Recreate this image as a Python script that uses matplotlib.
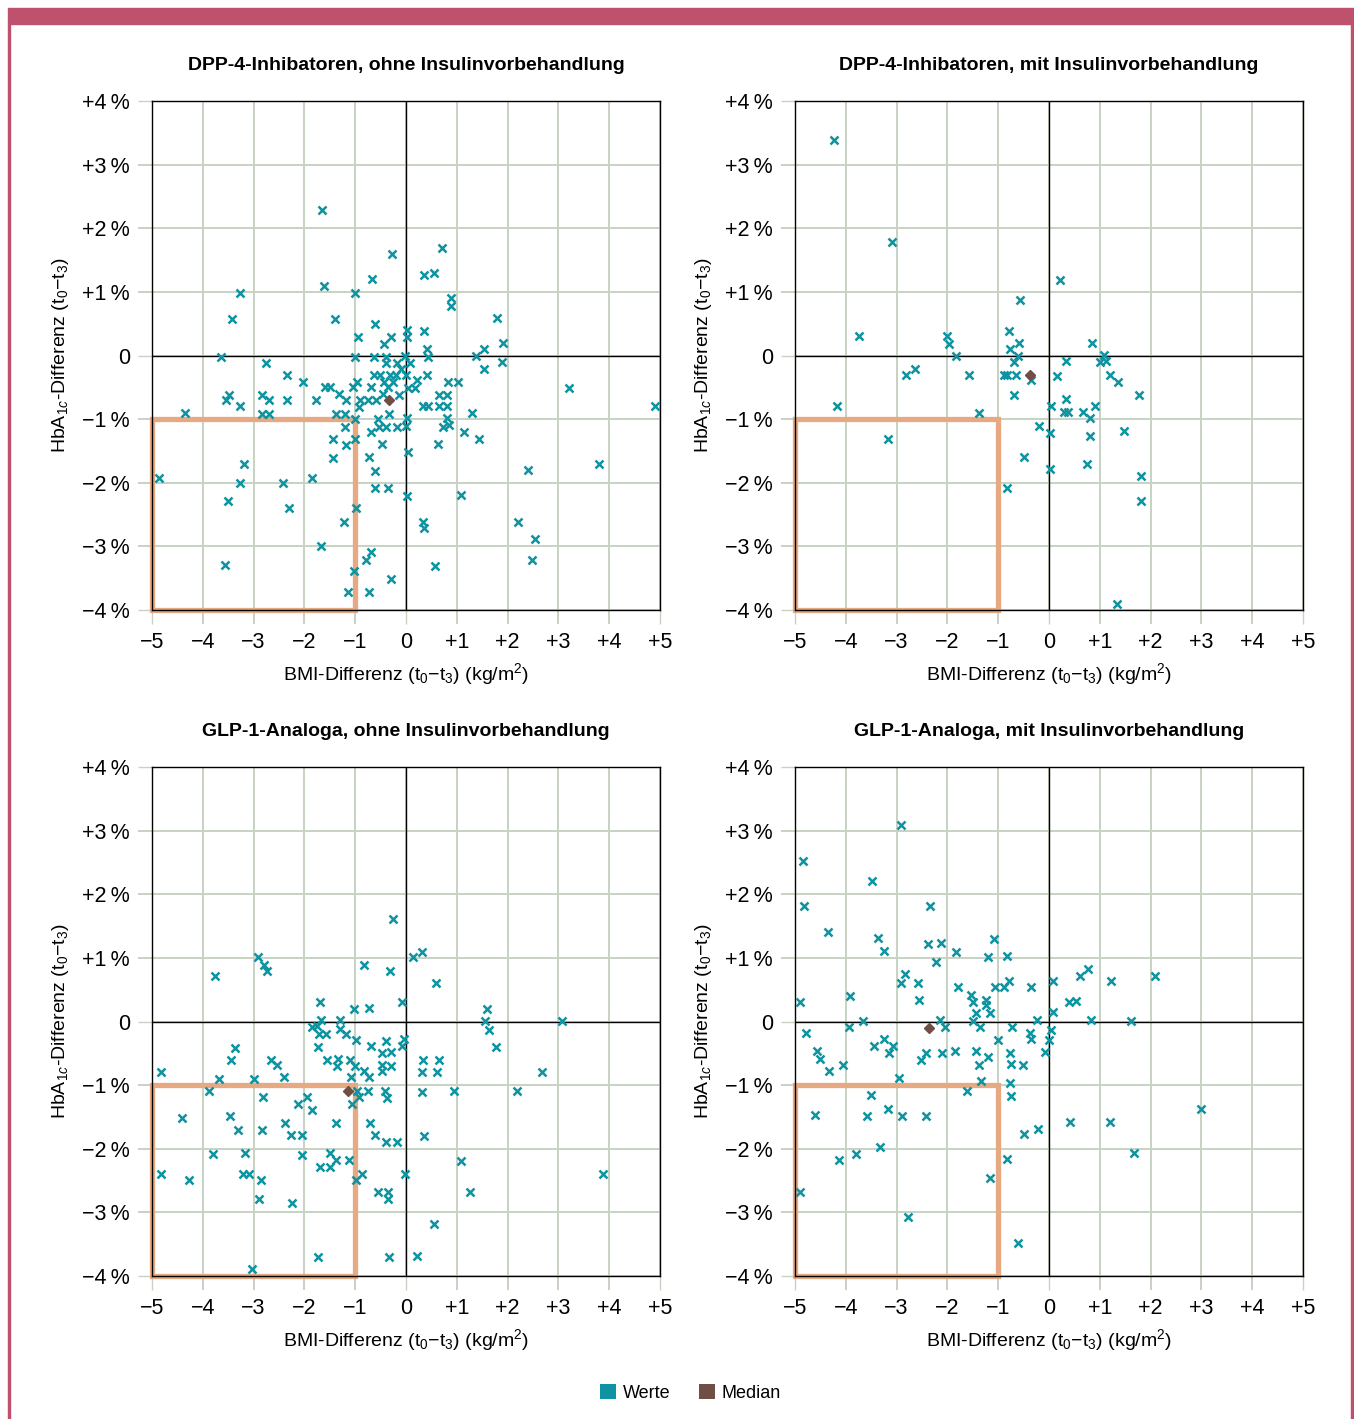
import numpy as np
import matplotlib
matplotlib.use("Agg")
import matplotlib.pyplot as plt
from matplotlib.patches import Rectangle, Patch

# ---------------------------
# Data
# x = BMI-Differenz (kg/m2), y = HbA1c-Differenz (%)
# ---------------------------
dpp4_ohne_bmi = [
    -1.66, -0.27, -0.67, -1.62, -1.01, -3.27, -3.43, -1.39, -0.62, -0.94,
    -0.30, -0.43, 0.02, 0.02, -3.64, -2.75, -1.01, -0.63, -0.39, -0.39,
    -0.18, -0.10, -0.02, -2.34, -2.03, -0.63, -0.52, -0.31, -0.20, 0.00,
    -0.43, -0.26, -1.60, -1.49, -1.05, -0.96, -0.69, -0.36, 0.03, -1.32,
    -0.46, -0.14, -3.49, -3.55, -2.84, -2.70, -3.27, -2.35, -1.78, -1.18,
    -0.90, -0.75, -0.59, -0.92, -4.35, -2.84, -2.70, -1.37, -1.20, -0.33,
    -1.01, -0.56, 0.01, -1.21, -0.69, -0.54, -0.39, -0.18, 0.00, -1.43,
    -1.01, -1.18, -0.48, -1.43, -0.73, -0.62, 0.03, -4.86, -3.19, -3.27,
    -2.42, -1.86, -0.62, -0.35, 0.02, -3.50, -2.31, -0.98, -1.23, -1.68,
    -0.69, -0.79, -3.56, -1.03, -0.30, -1.14, -0.73,
    0.70, 0.35, 0.56, 0.88, 0.88, 0.36, 0.41, 0.43, 1.79, 1.91,
    1.54, 1.38, 1.89, 1.54, 0.07, 0.41, 0.22, 0.18, 0.82, 1.02,
    0.64, 0.80, 0.33, 0.43, 0.64, 0.80, 1.30, 0.80, 0.72, 0.84,
    1.15, 1.44, 0.63, 3.20, 4.90, 2.40, 3.79, 1.09, 0.33, 0.35,
    2.21, 2.54, 2.48, 0.58,
]
dpp4_ohne_hba1c = [
    2.28, 1.59, 1.20, 1.09, 0.98, 0.98, 0.58, 0.58, 0.50, 0.29,
    0.29, 0.18, 0.40, 0.29, -0.02, -0.12, -0.02, -0.02, -0.02, -0.12,
    -0.12, -0.22, -0.01, -0.31, -0.41, -0.31, -0.31, -0.31, -0.31, -0.31,
    -0.42, -0.42, -0.50, -0.50, -0.50, -0.42, -0.50, -0.50, -0.51, -0.61,
    -0.61, -0.62, -0.62, -0.70, -0.62, -0.70, -0.80, -0.70, -0.70, -0.70,
    -0.70, -0.70, -0.70, -0.81, -0.90, -0.92, -0.92, -0.92, -0.92, -0.92,
    -1.00, -1.00, -0.99, -1.12, -1.20, -1.12, -1.12, -1.12, -1.11, -1.31,
    -1.31, -1.41, -1.39, -1.61, -1.60, -1.81, -1.52, -1.93, -1.70, -2.00,
    -2.00, -1.92, -2.09, -2.09, -2.21, -2.28, -2.40, -2.40, -2.61, -3.00,
    -3.09, -3.21, -3.30, -3.39, -3.51, -3.71, -3.71,
    1.69, 1.27, 1.29, 0.90, 0.78, 0.39, 0.10, -0.02, 0.59, 0.19,
    0.10, -0.01, -0.11, -0.21, -0.12, -0.30, -0.38, -0.51, -0.42, -0.42,
    -0.62, -0.62, -0.80, -0.80, -0.80, -0.80, -0.91, -0.99, -1.12, -1.10,
    -1.20, -1.31, -1.39, -0.51, -0.80, -1.80, -1.71, -2.19, -2.61, -2.71,
    -2.61, -2.88, -3.21, -3.31,
]
dpp4_ohne_median = (-0.34, -0.70)

dpp4_mit_bmi = [
    -4.23, -3.10, -0.57, -3.74, -2.00, -1.97, -1.83, -0.78, -0.60, -0.77,
    -0.62, -0.69, -2.81, -2.63, -1.57, -0.88, -0.83, -0.64, -0.36, -0.68,
    -4.18, -1.37, -3.16, -0.20, 0.01, -0.50, 0.01, -0.83,
    0.22, 0.85, 1.08, 1.00, 1.13, 0.33, 0.15, 1.21, 1.36, 1.78,
    0.33, 0.03, 0.29, 0.38, 0.67, 0.90, 0.80, 0.81, 1.47, 0.74,
    1.82, 1.82, 1.33,
]
dpp4_mit_hba1c = [
    3.39, 1.79, 0.88, 0.30, 0.31, 0.18, -0.01, 0.39, 0.20, 0.11,
    -0.01, -0.10, -0.30, -0.21, -0.30, -0.30, -0.30, -0.30, -0.39, -0.62,
    -0.80, -0.91, -1.31, -1.11, -1.22, -1.59, -1.78, -2.09,
    1.19, 0.20, 0.01, -0.10, -0.09, -0.09, -0.33, -0.30, -0.42, -0.62,
    -0.69, -0.79, -0.89, -0.89, -0.89, -0.79, -0.99, -1.27, -1.19, -1.71,
    -1.89, -2.28, -3.91,
]
dpp4_mit_median = (-0.38, -0.30)

glp1_ohne_bmi = [
    -0.25, -2.92, -2.80, -2.74, -3.75, -0.82, -0.31, -0.07, -1.70, -1.03,
    -0.73, -1.68, -1.30, -1.86, -1.75, -1.71, -1.58, -1.29, -1.18, -0.98,
    -0.39, -0.03, -0.07, -1.73, -0.68, -0.48, -0.30, -3.36, -3.44, -2.66,
    -2.53, -1.56, -1.33, -1.35, -1.11, -1.01, -0.48, -0.48, -0.30, -0.82,
    -0.72, -4.82, -3.68, -2.99, -2.40, -1.08, -3.87, -0.97, -0.92, -1.06,
    -0.75, -0.41, -0.38, -2.81, -1.95, -2.12, -1.85, -4.41, -3.46, -3.31,
    -2.83, -2.39, -2.26, -2.04, -1.38, -0.70, -0.62, -0.39, -0.18, -3.79,
    -3.17, -2.04, -1.49, -1.37, -1.50, -1.70, -1.13, -4.82, -4.27, -3.21,
    -3.09, -2.85, -0.98, -0.86, -0.02, -2.89, -2.25, -0.55, -0.36, -0.36,
    -1.74, -0.33, -3.04,
    0.14, 0.31, 0.60, 1.59, 1.55, 1.64, 1.77, 3.07, 0.33, 0.64,
    0.31, 0.62, 2.67, 0.31, 0.95, 2.18, 0.36, 1.09, 1.26, 3.87,
    0.56, 0.21,
]
glp1_ohne_hba1c = [
    1.61, 1.01, 0.89, 0.80, 0.71, 0.89, 0.80, 0.30, 0.30, 0.20,
    0.21, 0.02, 0.02, -0.09, -0.07, -0.20, -0.19, -0.12, -0.20, -0.29,
    -0.30, -0.28, -0.38, -0.40, -0.38, -0.50, -0.48, -0.41, -0.61, -0.60,
    -0.69, -0.61, -0.59, -0.70, -0.61, -0.70, -0.69, -0.78, -0.70, -0.78,
    -0.88, -0.80, -0.91, -0.91, -0.88, -0.88, -1.10, -1.10, -1.18, -1.30,
    -1.10, -1.10, -1.20, -1.19, -1.19, -1.30, -1.39, -1.51, -1.49, -1.71,
    -1.71, -1.60, -1.78, -1.78, -1.60, -1.60, -1.78, -1.89, -1.89, -2.09,
    -2.07, -2.10, -2.07, -2.18, -2.29, -2.28, -2.18, -2.40, -2.49, -2.40,
    -2.40, -2.49, -2.49, -2.40, -2.40, -2.79, -2.86, -2.68, -2.68, -2.79,
    -3.70, -3.70, -3.89,
    1.01, 1.10, 0.60, 0.20, 0.01, -0.13, -0.40, 0.01, -0.60, -0.61,
    -0.80, -0.79, -0.80, -1.11, -1.10, -1.10, -1.80, -2.19, -2.68, -2.40,
    -3.19, -3.69,
]
glp1_ohne_median = (-1.15, -1.09)

glp1_mit_bmi = [
    -2.92, -4.84, -3.48, -4.82, -2.35, -4.35, -3.37, -3.25, -2.39, -2.12,
    -1.83, -1.09, -1.20, -0.82, -2.22, -2.83, -2.91, -2.57, -2.55, -1.79,
    -1.53, -1.49, -1.24, -1.24, -1.16, -1.43, -1.06, -0.88, -0.78, -0.35,
    -4.91, -3.91, -3.66, -3.94, -4.78, -2.15, -2.05, -1.49, -1.35, -0.24,
    -0.73, -0.37, -0.36, -1.01, -3.45, -3.25, -3.07, -3.14, -4.57, -4.50,
    -4.33, -4.06, -2.51, -2.42, -2.11, -1.85, -1.43, -1.20, -1.37, -0.77,
    -0.75, -0.52, -2.95, -1.34, -1.61, -0.77, -0.75, -3.51, -4.61, -3.59,
    -3.16, -2.89, -2.42, -0.49, -0.21, -4.14, -3.80, -3.33, -0.83, -1.16,
    -4.90, -2.78, -0.62,
    0.77, 0.62, 0.08, 1.23, 2.09, 0.39, 0.54, 0.08, 0.83, 1.61,
    0.03, 0.00, -0.07, 0.41, 1.21, 3.00, 1.68,
]
glp1_mit_hba1c = [
    3.09, 2.52, 2.21, 1.81, 1.82, 1.41, 1.31, 1.11, 1.22, 1.23,
    1.10, 1.30, 1.01, 1.03, 0.93, 0.74, 0.61, 0.60, 0.34, 0.54,
    0.42, 0.31, 0.34, 0.26, 0.13, 0.13, 0.54, 0.54, 0.63, 0.54,
    0.31, 0.40, 0.01, -0.09, -0.18, 0.02, -0.09, 0.01, -0.09, 0.03,
    -0.09, -0.18, -0.28, -0.29, -0.38, -0.27, -0.38, -0.50, -0.47, -0.59,
    -0.78, -0.69, -0.61, -0.50, -0.50, -0.47, -0.47, -0.56, -0.68, -0.50,
    -0.67, -0.69, -0.89, -0.94, -1.09, -0.97, -1.17, -1.15, -1.47, -1.49,
    -1.38, -1.49, -1.49, -1.77, -1.69, -2.18, -2.09, -1.98, -2.16, -2.46,
    -2.68, -3.08, -3.48,
    0.83, 0.71, 0.63, 0.63, 0.71, 0.31, 0.33, 0.15, 0.03, 0.01,
    -0.13, -0.29, -0.48, -1.58, -1.58, -1.38, -2.07,
]
glp1_mit_median = (-2.36, -0.10)

titles = [
    "DPP-4-Inhibatoren, ohne Insulinvorbehandlung",
    "DPP-4-Inhibatoren, mit Insulinvorbehandlung",
    "GLP-1-Analoga, ohne Insulinvorbehandlung",
    "GLP-1-Analoga, mit Insulinvorbehandlung",
]
x_ticks = [-5, -4, -3, -2, -1, 0, 1, 2, 3, 4, 5]
y_ticks = [-4, -3, -2, -1, 0, 1, 2, 3, 4]

# colours
TEAL = "#0E93A0"
BROWN = "#6E4E45"
BOX = "#E6A981"
GRID = "#C7D2C2"
FRAME = "#BE516E"

plt.rcParams["font.family"] = ["Liberation Sans", "DejaVu Sans"]
plt.rcParams["mathtext.fontset"] = "custom"
plt.rcParams["mathtext.rm"] = "Liberation Sans"
plt.rcParams["mathtext.it"] = "Liberation Sans:italic"


def fmt_x(v):
    if v < 0:
        return "\u2212" + str(abs(v))
    if v > 0:
        return "+" + str(v)
    return "0"


def fmt_y(v):
    if v < 0:
        return "\u2212" + str(abs(v)) + "\u2009%"
    if v > 0:
        return "+" + str(v) + "\u2009%"
    return "0"


def draw_panel(ax, xs, ys, med, title):
    ax.set_xlim(-5, 5)
    ax.set_ylim(-4, 4)
    ax.set_xticks(x_ticks)
    ax.set_yticks(y_ticks)
    ax.set_xticklabels([fmt_x(v) for v in x_ticks])
    ax.set_yticklabels([fmt_y(v) for v in y_ticks])
    ax.grid(True, color=GRID, linewidth=1.4, zorder=0)
    ax.set_axisbelow(True)
    ax.tick_params(direction="out", length=10, width=1.4, color=GRID,
                   labelsize=15.5, pad=6)
    # black tick marks at the frame edges and at zero
    for t, v in zip(ax.xaxis.get_major_ticks(), x_ticks):
        if v in (-5, 0, 5):
            t.tick1line.set_color("black")
            t.tick1line.set_markeredgewidth(1.0)
    for t, v in zip(ax.yaxis.get_major_ticks(), y_ticks):
        if v in (-4, 0, 4):
            t.tick1line.set_color("black")
            t.tick1line.set_markeredgewidth(1.0)
    for s in ax.spines.values():
        s.set_color("black")
        s.set_linewidth(1.0)
    ax.axhline(0, color="black", linewidth=1.0, zorder=1)
    ax.axvline(0, color="black", linewidth=1.0, zorder=1)

    ax.add_patch(Rectangle((-5, -4), 4, 3, fill=False, edgecolor=BOX,
                           linewidth=3.8, zorder=2, clip_on=False))

    ax.plot(xs, ys, linestyle="none", marker="x", color=TEAL,
            markersize=5.5, markeredgewidth=1.8, zorder=3, clip_on=False)
    ax.plot([med[0]], [med[1]], linestyle="none", marker="D", color=BROWN,
            markersize=5.5, zorder=4)

    ax.set_title(title, fontsize=14, fontweight="bold", pad=22)
    ax.set_xlabel(r"BMI-Differenz (t$_0$$-$t$_3$) (kg/m$^2$)", fontsize=14,
                  labelpad=6)
    ax.set_ylabel(r"HbA$_{1c}$-Differenz (t$_0$$-$t$_3$)", fontsize=14,
                  labelpad=8)


fig = plt.figure(figsize=(13.54, 14.19), dpi=100)

W, H = 1354.0, 1419.0
positions = [
    (152, 101), (795, 101),
    (152, 767), (795, 767),
]
panels = [
    (dpp4_ohne_bmi, dpp4_ohne_hba1c, dpp4_ohne_median),
    (dpp4_mit_bmi, dpp4_mit_hba1c, dpp4_mit_median),
    (glp1_ohne_bmi, glp1_ohne_hba1c, glp1_ohne_median),
    (glp1_mit_bmi, glp1_mit_hba1c, glp1_mit_median),
]
for (px, py), (xs, ys, med), title in zip(positions, panels, titles):
    ax = fig.add_axes([px / W, 1 - (py + 509) / H, 508 / W, 509 / H])
    draw_panel(ax, xs, ys, med, title)

# frame: coloured bar on top and thin side lines
fig.patches.append(Rectangle((8 / W, 1 - 24 / H), 1 - 8 / W, 16 / H,
                             transform=fig.transFigure, color=FRAME,
                             zorder=0))
fig.patches.append(Rectangle((8 / W, 0), 2 / W, 1 - 24 / H,
                             transform=fig.transFigure, color=FRAME,
                             zorder=0))
fig.patches.append(Rectangle((1351 / W, 0), 2 / W, 1 - 24 / H,
                             transform=fig.transFigure, color=FRAME,
                             zorder=0))

handles = [
    Patch(facecolor=TEAL, edgecolor="none", label="Werte"),
    Patch(facecolor=BROWN, edgecolor="none", label="Median"),
]
fig.legend(handles=handles, loc="center", bbox_to_anchor=(0.51, 1 - 1393 / H),
           ncol=2, frameon=False, fontsize=13, handlelength=0.9,
           handleheight=0.9, handletextpad=0.35, columnspacing=1.6)

fig.savefig("out.png", dpi=100)
